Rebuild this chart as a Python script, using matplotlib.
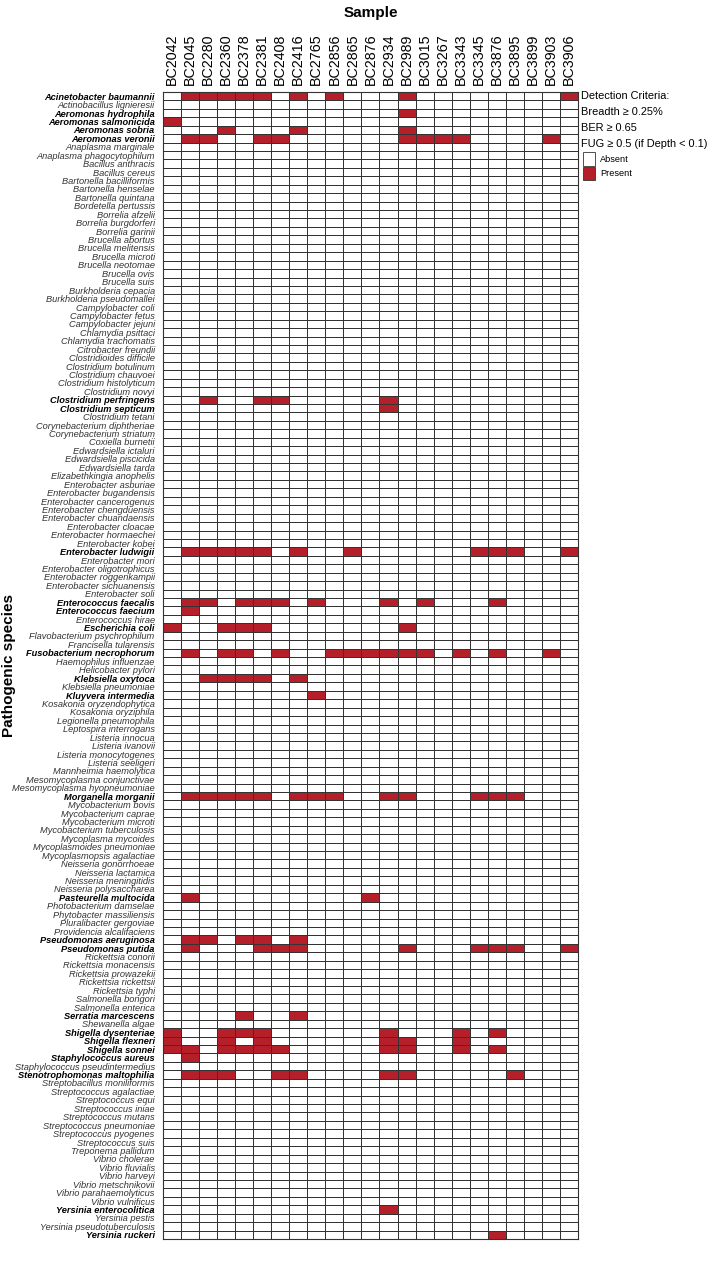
import numpy as np
import matplotlib
matplotlib.use("Agg")
import matplotlib.pyplot as plt
from matplotlib.colors import ListedColormap
from matplotlib.patches import Rectangle

plt.rcParams['font.family'] = ['Liberation Sans Narrow', 'Liberation Sans', 'DejaVu Sans']

samples = ['BC2042', 'BC2045', 'BC2280', 'BC2360', 'BC2378', 'BC2381', 'BC2408',
           'BC2416', 'BC2765', 'BC2856', 'BC2865', 'BC2876', 'BC2934', 'BC2989',
           'BC3015', 'BC3267', 'BC3343', 'BC3345', 'BC3876', 'BC3895', 'BC3899',
           'BC3903', 'BC3906']

species = [
    'Acinetobacter baumannii', 'Actinobacillus lignieresii', 'Aeromonas hydrophila',
    'Aeromonas salmonicida', 'Aeromonas sobria', 'Aeromonas veronii',
    'Anaplasma marginale', 'Anaplasma phagocytophilum', 'Bacillus anthracis',
    'Bacillus cereus', 'Bartonella bacilliformis', 'Bartonella henselae',
    'Bartonella quintana', 'Bordetella pertussis', 'Borrelia afzelii',
    'Borrelia burgdorferi', 'Borrelia garinii', 'Brucella abortus',
    'Brucella melitensis', 'Brucella microti', 'Brucella neotomae', 'Brucella ovis',
    'Brucella suis', 'Burkholderia cepacia', 'Burkholderia pseudomallei',
    'Campylobacter coli', 'Campylobacter fetus', 'Campylobacter jejuni',
    'Chlamydia psittaci', 'Chlamydia trachomatis', 'Citrobacter freundii',
    'Clostridioides difficile', 'Clostridium botulinum', 'Clostridium chauvoei',
    'Clostridium histolyticum', 'Clostridium novyi', 'Clostridium perfringens',
    'Clostridium septicum', 'Clostridium tetani', 'Corynebacterium diphtheriae',
    'Corynebacterium striatum', 'Coxiella burnetii', 'Edwardsiella ictaluri',
    'Edwardsiella piscicida', 'Edwardsiella tarda', 'Elizabethkingia anophelis',
    'Enterobacter asburiae', 'Enterobacter bugandensis', 'Enterobacter cancerogenus',
    'Enterobacter chengduensis', 'Enterobacter chuandaensis', 'Enterobacter cloacae',
    'Enterobacter hormaechei', 'Enterobacter kobei', 'Enterobacter ludwigii',
    'Enterobacter mori', 'Enterobacter oligotrophicus', 'Enterobacter roggenkampii',
    'Enterobacter sichuanensis', 'Enterobacter soli', 'Enterococcus faecalis',
    'Enterococcus faecium', 'Enterococcus hirae', 'Escherichia coli',
    'Flavobacterium psychrophilum', 'Francisella tularensis',
    'Fusobacterium necrophorum', 'Haemophilus influenzae', 'Helicobacter pylori',
    'Klebsiella oxytoca', 'Klebsiella pneumoniae', 'Kluyvera intermedia',
    'Kosakonia oryzendophytica', 'Kosakonia oryziphila', 'Legionella pneumophila',
    'Leptospira interrogans', 'Listeria innocua', 'Listeria ivanovii',
    'Listeria monocytogenes', 'Listeria seeligeri', 'Mannheimia haemolytica',
    'Mesomycoplasma conjunctivae', 'Mesomycoplasma hyopneumoniae',
    'Morganella morganii', 'Mycobacterium bovis', 'Mycobacterium caprae',
    'Mycobacterium microti', 'Mycobacterium tuberculosis', 'Mycoplasma mycoides',
    'Mycoplasmoides pneumoniae', 'Mycoplasmopsis agalactiae', 'Neisseria gonorrhoeae',
    'Neisseria lactamica', 'Neisseria meningitidis', 'Neisseria polysaccharea',
    'Pasteurella multocida', 'Photobacterium damselae', 'Phytobacter massiliensis',
    'Pluralibacter gergoviae', 'Providencia alcalifaciens', 'Pseudomonas aeruginosa',
    'Pseudomonas putida', 'Rickettsia conorii', 'Rickettsia monacensis',
    'Rickettsia prowazekii', 'Rickettsia rickettsii', 'Rickettsia typhi',
    'Salmonella bongori', 'Salmonella enterica', 'Serratia marcescens',
    'Shewanella algae', 'Shigella dysenteriae', 'Shigella flexneri', 'Shigella sonnei',
    'Staphylococcus aureus', 'Staphylococcus pseudintermedius',
    'Stenotrophomonas maltophilia', 'Streptobacillus moniliformis',
    'Streptococcus agalactiae', 'Streptococcus equi', 'Streptococcus iniae',
    'Streptococcus mutans', 'Streptococcus pneumoniae', 'Streptococcus pyogenes',
    'Streptococcus suis', 'Treponema pallidum', 'Vibrio cholerae', 'Vibrio fluvialis',
    'Vibrio harveyi', 'Vibrio metschnikovii', 'Vibrio parahaemolyticus',
    'Vibrio vulnificus', 'Yersinia enterocolitica', 'Yersinia pestis',
    'Yersinia pseudotuberculosis', 'Yersinia ruckeri',
]

# species -> samples where it was called "Present"
detected = {
    'Acinetobacter baumannii': ['BC2045', 'BC2280', 'BC2360', 'BC2378', 'BC2381', 'BC2416', 'BC2856', 'BC2989', 'BC3906'],
    'Aeromonas hydrophila': ['BC2989'],
    'Aeromonas salmonicida': ['BC2042'],
    'Aeromonas sobria': ['BC2360', 'BC2416', 'BC2989'],
    'Aeromonas veronii': ['BC2045', 'BC2280', 'BC2381', 'BC2408', 'BC2989', 'BC3015', 'BC3267', 'BC3343', 'BC3903'],
    'Clostridium perfringens': ['BC2280', 'BC2381', 'BC2408', 'BC2934'],
    'Clostridium septicum': ['BC2934'],
    'Enterobacter ludwigii': ['BC2045', 'BC2280', 'BC2360', 'BC2378', 'BC2381', 'BC2416', 'BC2865', 'BC3345', 'BC3876', 'BC3895', 'BC3906'],
    'Enterococcus faecalis': ['BC2045', 'BC2280', 'BC2378', 'BC2381', 'BC2408', 'BC2765', 'BC2934', 'BC3015', 'BC3876'],
    'Enterococcus faecium': ['BC2045'],
    'Escherichia coli': ['BC2042', 'BC2360', 'BC2378', 'BC2381', 'BC2989'],
    'Fusobacterium necrophorum': ['BC2045', 'BC2360', 'BC2378', 'BC2408', 'BC2856', 'BC2865', 'BC2876', 'BC2934', 'BC2989', 'BC3015', 'BC3343', 'BC3876', 'BC3903'],
    'Klebsiella oxytoca': ['BC2280', 'BC2360', 'BC2378', 'BC2381', 'BC2416'],
    'Kluyvera intermedia': ['BC2765'],
    'Morganella morganii': ['BC2045', 'BC2280', 'BC2360', 'BC2378', 'BC2381', 'BC2416', 'BC2765', 'BC2856', 'BC2934', 'BC2989', 'BC3345', 'BC3876', 'BC3895'],
    'Pasteurella multocida': ['BC2045', 'BC2876'],
    'Pseudomonas aeruginosa': ['BC2045', 'BC2280', 'BC2378', 'BC2381', 'BC2416'],
    'Pseudomonas putida': ['BC2045', 'BC2381', 'BC2408', 'BC2416', 'BC2989', 'BC3345', 'BC3876', 'BC3895', 'BC3906'],
    'Serratia marcescens': ['BC2378', 'BC2416'],
    'Shigella dysenteriae': ['BC2042', 'BC2360', 'BC2378', 'BC2381', 'BC2934', 'BC3343', 'BC3876'],
    'Shigella flexneri': ['BC2042', 'BC2360', 'BC2381', 'BC2934', 'BC2989', 'BC3343'],
    'Shigella sonnei': ['BC2042', 'BC2045', 'BC2360', 'BC2378', 'BC2381', 'BC2408', 'BC2934', 'BC2989', 'BC3343', 'BC3876'],
    'Staphylococcus aureus': ['BC2045'],
    'Stenotrophomonas maltophilia': ['BC2045', 'BC2280', 'BC2360', 'BC2408', 'BC2416', 'BC2934', 'BC2989', 'BC3895'],
    'Yersinia enterocolitica': ['BC2934'],
    'Yersinia ruckeri': ['BC3876'],
}

criteria = ['Detection Criteria:', 'Breadth \u2265 0.25%', 'BER \u2265 0.65',
            'FUG \u2265 0.5 (if Depth < 0.1)']

RED = '#B51F29'
REG = ['Liberation Sans', 'DejaVu Sans']

mat = np.zeros((len(species), len(samples)))
for sp, hits in detected.items():
    for s in hits:
        mat[species.index(sp), samples.index(s)] = 1

fig = plt.figure(figsize=(7.09, 12.70), dpi=100)
ax = fig.add_axes([0.230, 0.0244, 0.585, 0.9032])

ax.pcolormesh(mat, cmap=ListedColormap(['white', RED]), vmin=0, vmax=1,
              edgecolors='#333333', linewidth=0.7)
ax.set_xlim(0, len(samples))
ax.set_ylim(len(species), 0)

ax.xaxis.tick_top()
ax.set_xticks(np.arange(len(samples)) + 0.5)
ax.set_xticklabels(samples, rotation=90, fontsize=10.3, family=REG)
ax.set_yticks(np.arange(len(species)) + 0.5)
ax.set_yticklabels(species, fontsize=6.7, style='italic')
for lab, sp in zip(ax.get_yticklabels(), species):
    if sp in detected:
        lab.set_fontweight('bold')
        lab.set_color('black')
    else:
        lab.set_color('#333333')
ax.tick_params(axis='y', length=0, pad=6)
ax.tick_params(axis='x', length=0, pad=5)
for s in ax.spines.values():
    s.set_linewidth(0.8)
    s.set_color('#333333')

fig.text(0.523, 0.995, 'Sample', ha='center', va='top', fontsize=11,
         fontweight='bold', family=REG)
fig.text(0.012, 0.476, 'Pathogenic species', rotation=90, ha='center', va='center',
         fontsize=11, fontweight='bold', family=REG)

# legend block on the right
lx = 581 / 709
for i, t in enumerate(criteria):
    fig.text(lx, 1 - (96 + 16 * i) / 1270, t, ha='left', va='center', fontsize=7.9,
             family=REG)
for i, (name, col) in enumerate([('Absent', 'white'), ('Present', RED)]):
    yc = 159 + 14.5 * i
    fig.patches.append(Rectangle((583 / 709, 1 - (yc + 6.5) / 1270), 12 / 709, 13 / 1270,
                                 transform=fig.transFigure, facecolor=col,
                                 edgecolor='#333333', linewidth=0.6))
    fig.text(600 / 709, 1 - yc / 1270, name, ha='left', va='center', fontsize=6.6,
             family=REG)

fig.savefig('out.png', dpi=100)
